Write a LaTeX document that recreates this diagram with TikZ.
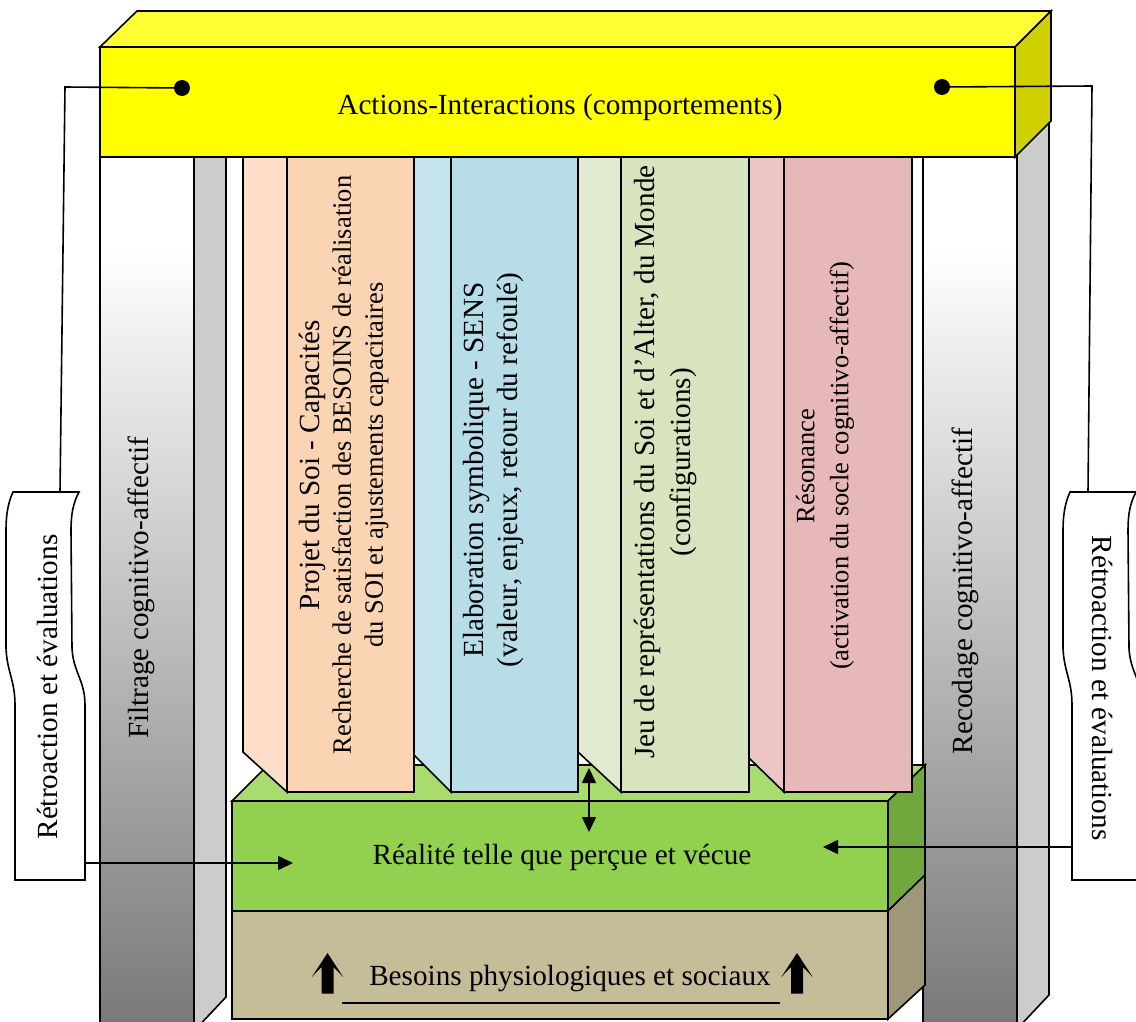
\documentclass[tikz,border=0pt]{standalone}
\usepackage{fontspec}
\setmainfont{Liberation Serif}
\usetikzlibrary{arrows.meta}

% face colours
\definecolor{yfront}{HTML}{FFFF00}
\definecolor{ytop}{HTML}{FFFF33}
\definecolor{yside}{HTML}{D0D000}
\definecolor{pside}{HTML}{CCCCCC}
\definecolor{pbot}{HTML}{767676}
\definecolor{gfront}{HTML}{92D050}
\definecolor{gtop}{HTML}{A9DB6F}
\definecolor{gside}{HTML}{71A83D}
\definecolor{tfront}{HTML}{C4BD97}
\definecolor{tside}{HTML}{9F9878}
\definecolor{ofront}{HTML}{FBD4B4}
\definecolor{oside}{HTML}{FCDEC9}
\definecolor{bfront}{HTML}{B7DDE8}
\definecolor{bside}{HTML}{C6E4EC}
\definecolor{lfront}{HTML}{D7E4BD}
\definecolor{lside}{HTML}{E0EAD0}
\definecolor{rfront}{HTML}{E6B9B8}
\definecolor{rside}{HTML}{ECC6C5}

\newcommand{\bigsz}{\fontsize{29.2}{34}\selectfont}
\newcommand{\smallsz}{\fontsize{26.5}{32}\selectfont}

\begin{document}
\begin{tikzpicture}[x=1pt,y=-1pt,
  face/.style={draw=black,line width=1.6pt,line join=miter},
  bigtxt/.style={font=\bigsz,align=center,inner sep=0pt},
  smalltxt/.style={font=\smallsz,align=center,inner sep=0pt},
  link/.style={draw=black,line width=1.6pt},
  tip/.style={-{Triangle[length=15pt,width=14pt]}},
  twotips/.style={{Triangle[length=15pt,width=14pt]}-{Triangle[length=15pt,width=14pt]}},
  ]
\useasboundingbox (0,0) rectangle (1136,1022);

% ---------- left pillar: filtering ----------
\fill[white] (100,150) rectangle (194,260);
\shade[top color=white,bottom color=pbot] (100,250) rectangle (194,1040);
\draw[face] (100,150) rectangle (194,1040);
\path[face,fill=pside] (194,150) -- (226,150) -- (226,997) -- (194,1031) -- cycle;
\node[bigtxt,rotate=90] (filtre) at (141.5,588) {Filtrage cognitivo-affectif};

% ---------- right pillar: recoding ----------
\fill[white] (923,150) rectangle (1017,260);
\shade[top color=white,bottom color=pbot] (923,250) rectangle (1017,1040);
\draw[face] (923,150) rectangle (1017,1040);
\path[face,fill=pside] (1017,150) -- (1049,110) -- (1049,995) -- (1017,1029) -- cycle;
\node[bigtxt,rotate=90] (recode) at (965,591) {Recodage cognitivo-affectif};

% ---------- base blocks ----------
\path[face,fill=gtop] (232,801) -- (268,765) -- (925,765) -- (888,801) -- cycle;
\path[face,fill=gfront] (232,801) rectangle (888,911);
\path[face,fill=gside] (888,801) -- (925,765) -- (925,875) -- (888,911) -- cycle;
\path[face,fill=tfront] (232,911) rectangle (888,1019);
\path[face,fill=tside] (888,911) -- (925,875) -- (925,985) -- (888,1019) -- cycle;
\node[bigtxt,anchor=base] (reel) at (562,864) {Réalité telle que perçue et vécue};
\node[bigtxt,anchor=base] (besoins) at (570,985) {Besoins physiologiques et sociaux};
\draw[line width=1.6pt] (342,1003) -- (780,1003);
% block arrows beside the needs label
\foreach \cx in {327.5,797} {
  \fill[black] (\cx,953) -- (\cx+15.7,977) -- (\cx+6,967) -- (\cx+6,993.5)
    -- (\cx-6,993.5) -- (\cx-6,967) -- (\cx-15.7,977) -- cycle;
}

% ---------- columns ----------
\path[face,fill=oside] (243,150) -- (287,150) -- (287,792) -- (243,752) -- cycle;
\path[face,fill=ofront] (287,150) rectangle (414,792);
\path[face,fill=bside] (414,150) -- (451,150) -- (451,792) -- (414,755) -- cycle;
\path[face,fill=bfront] (451,150) rectangle (578,792);
\path[face,fill=lside] (578,150) -- (621,150) -- (621,792) -- (578,752) -- cycle;
\path[face,fill=lfront] (621,150) rectangle (749,792);
\path[face,fill=rside] (749,150) -- (784,150) -- (784,792) -- (749,758) -- cycle;
\path[face,fill=rfront] (784,150) rectangle (912,792);

\node[smalltxt,rotate=90] (projet) at (344,465)
  {\bigsz Projet du Soi - Capacités\\[-1pt]
   \smallsz Recherche de satisfaction des BESOINS de réalisation\\
   \smallsz du SOI et ajustements capacitaires};
\node[bigtxt,rotate=90] (sens) at (493,470)
  {Elaboration symbolique - SENS\\ (valeur, enjeux, retour du refoulé)};
\node[bigtxt,rotate=90] (jeu) at (665,462)
  {Jeu de représentations du Soi et d’Alter, du Monde\\[2pt] (configurations)};
\node[smalltxt,rotate=90] (reson) at (825,466)
  {Résonance\\[2pt] (activation du socle cognitivo-affectif)};

% ---------- top block: actions ----------
\path[face,fill=ytop] (100,47) -- (137,11) -- (1051,11) -- (1015,47) -- cycle;
\path[face,fill=yfront] (100,47) rectangle (1015,157);
\path[face,fill=yside] (1015,47) -- (1051,11) -- (1051,121) -- (1015,157) -- cycle;
\node[bigtxt,anchor=base] (actions) at (560,115) {Actions-Interactions (comportements)};

% ---------- feedback loops ----------
\path[face,fill=white] (13,492) -- (79,492) .. controls (73,503) and (71,515) .. (71,530)
  -- (72,648) .. controls (73,672) and (85,680) .. (85,705) -- (85,880) -- (15,880)
  -- (15,705) .. controls (15,680) and (7,672) .. (6,648) -- (6,530)
  .. controls (6,515) and (8,503) .. (13,492) -- cycle;
\node[bigtxt,rotate=90] (retroL) at (47.5,687) {Rétroaction et évaluations};

\path[face,fill=white] (1070,492) -- (1136,492) .. controls (1130,503) and (1128,515) .. (1128,530)
  -- (1129,648) .. controls (1130,672) and (1142,680) .. (1142,705) -- (1142,880) -- (1072,880)
  -- (1072,705) .. controls (1072,680) and (1064,672) .. (1063,648) -- (1063,530)
  .. controls (1063,515) and (1065,503) .. (1070,492) -- cycle;
\node[bigtxt,rotate=-90] (retroR) at (1102,688) {Rétroaction et évaluations};

\coordinate (dotL) at (182,88);
\coordinate (kneeL) at (65,87);
\coordinate (topL) at (60,492);
\coordinate (outL) at (85,863);
\coordinate (inL) at (293,863);
\coordinate (dotR) at (942,87);
\coordinate (kneeR) at (1092,86);
\coordinate (topR) at (1088,492);
\coordinate (outR) at (1072,847);
\coordinate (inR) at (823,847);
\coordinate (upA) at (589,768);
\coordinate (downA) at (589,832);

\draw[link] (dotL) -- (kneeL) -- (topL);
\draw[link] (dotR) -- (kneeR) -- (topR);
\fill (dotL) circle[radius=8pt];
\fill (dotR) circle[radius=8pt];
\draw[link,tip] (outL) -- (inL);
\draw[link,tip] (outR) -- (inR);
\draw[link,twotips] (upA) -- (downA);
\end{tikzpicture}
\end{document}
